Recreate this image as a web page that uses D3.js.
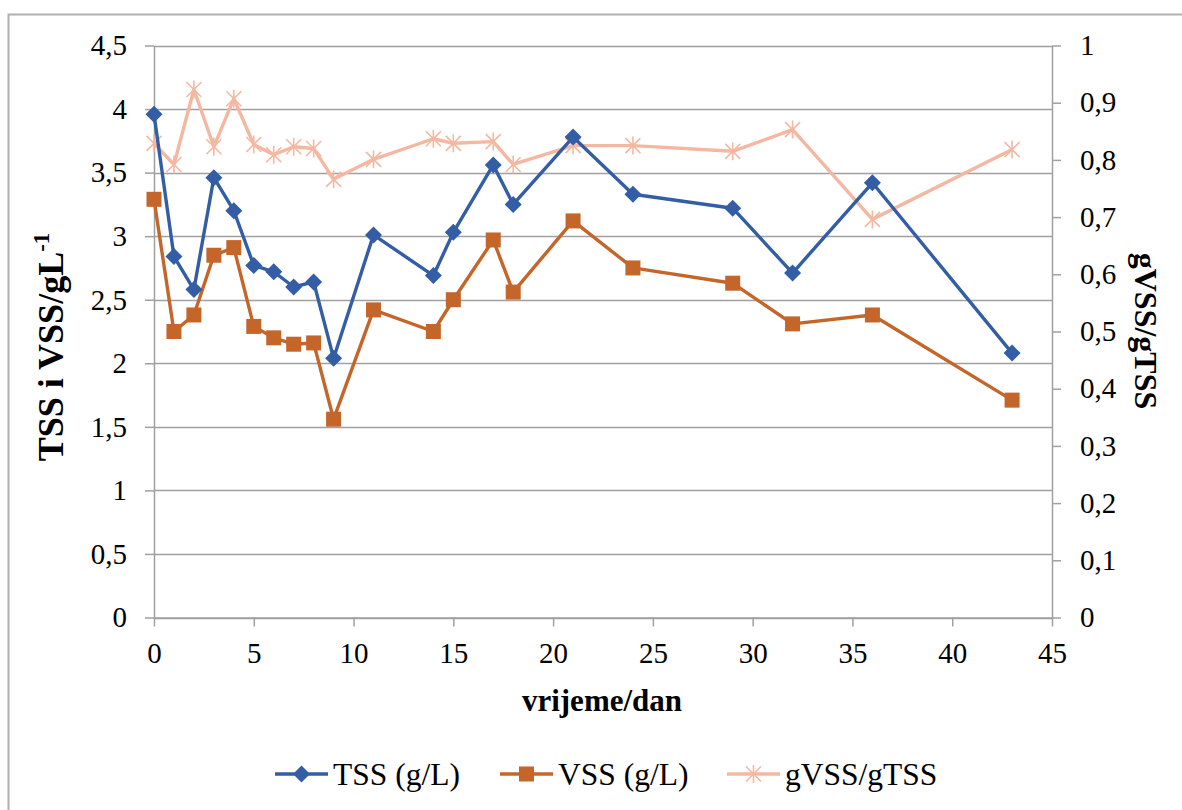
<!DOCTYPE html>
<html><head><meta charset="utf-8">
<script src="https://cdn.jsdelivr.net/npm/d3@7"></script>
<style>
body{margin:0;background:#fff;}
svg{display:block;font-family:"Liberation Serif","Times New Roman",serif;}
</style></head><body>
<svg id="c" width="1182" height="810"></svg>
<script>
const days = [0,1,2,3,4,5,6,7,8,9,11,14,15,17,18,21,24,29,32,36,43];
const tss  = [3.96,2.84,2.58,3.46,3.20,2.77,2.72,2.60,2.64,2.04,3.01,2.69,3.03,3.56,3.25,3.78,3.33,3.22,2.71,3.42,2.08];
const vss  = [3.29,2.25,2.38,2.85,2.91,2.29,2.20,2.15,2.16,1.56,2.42,2.25,2.50,2.97,2.56,3.12,2.75,2.63,2.31,2.38,1.71];
const ratio= [0.829,0.792,0.923,0.823,0.907,0.827,0.809,0.823,0.820,0.766,0.801,0.837,0.829,0.832,0.792,0.825,0.825,0.815,0.853,0.696,0.818];
const xTicks = [0,5,10,15,20,25,30,35,40,45];
const yLeftTicks = [0,0.5,1,1.5,2,2.5,3,3.5,4,4.5];
const yRightTicks = [0,0.1,0.2,0.3,0.4,0.5,0.6,0.7,0.8,0.9,1];
const seriesNames = ["TSS (g/L)","VSS (g/L)","gVSS/gTSS"];
const colors = ["#335ea5","#c4652a","#f4b8a2"];

const svg = d3.select("#c");
const x = d3.scaleLinear().domain([0,45]).range([154,1052]);
const yL = d3.scaleLinear().domain([0,4.5]).range([617.5,45.5]);
const yR = d3.scaleLinear().domain([0,1]).range([617.5,45.5]);
const fmt = d => String(+d.toFixed(1)).replace('.',',');
const grey = "#a0a0a0";

// outer frame
svg.append("rect").attr("x",8.5).attr("y",14.5).attr("width",1200).attr("height",900)
  .attr("fill","none").attr("stroke","#b0b0b0").attr("stroke-width",2);

// gridlines
svg.append("g").selectAll("line").data(yLeftTicks).join("line")
  .attr("x1",x(0)).attr("x2",x(45)).attr("y1",d=>Math.round(yL(d))+0.5).attr("y2",d=>Math.round(yL(d))+0.5)
  .attr("stroke",grey).attr("stroke-width",1.5);

function styleAxis(g){
  g.select(".domain").attr("stroke",grey).attr("stroke-width",1.5);
  g.selectAll(".tick line").attr("stroke",grey).attr("stroke-width",1.5);
  g.selectAll("text").attr("fill","#000").style("font-size","29px").style("font-family","Liberation Serif");
}
const gL = svg.append("g").attr("transform",`translate(${x(0)},0)`)
  .call(d3.axisLeft(yL).tickValues(yLeftTicks).tickFormat(fmt).tickSize(9).tickPadding(18).tickSizeOuter(0));
styleAxis(gL);
const gR = svg.append("g").attr("transform",`translate(${x(45)},0)`)
  .call(d3.axisRight(yR).tickValues(yRightTicks).tickFormat(fmt).tickSize(9).tickPadding(19).tickSizeOuter(0));
styleAxis(gR);
const gX = svg.append("g").attr("transform",`translate(0,${yL(0)})`)
  .call(d3.axisBottom(x).tickValues(xTicks).tickFormat(d3.format("d")).tickSize(9).tickPadding(16).tickSizeOuter(0));
styleAxis(gX);

// axis titles
svg.append("text").attr("x",602).attr("y",711).attr("text-anchor","middle")
  .style("font-size","31px").style("font-weight","bold").text("vrijeme/dan");
const lt = svg.append("text").attr("transform","translate(63,347) rotate(-90)").attr("text-anchor","middle")
  .style("font-size","36px").style("font-weight","bold");
lt.append("tspan").text("TSS i VSS/gL");
lt.append("tspan").attr("dy",-14).style("font-size","23px").text("-1");
svg.append("text").attr("transform","translate(1135,331) rotate(90)").attr("text-anchor","middle")
  .style("font-size","32px").style("font-weight","bold").text("gVSS/gTSS");

// markers
function marker(g, type, color){
  if(type===0){
    g.append("path").attr("d","M0,-8.5L8.5,0L0,8.5L-8.5,0Z").attr("fill",color);
  } else if(type===1){
    g.append("rect").attr("x",-7.5).attr("y",-7.5).attr("width",15).attr("height",15).attr("fill",color);
  } else {
    const r=7.5;
    g.append("path").attr("d",`M${-r},${-r}L${r},${r}M${-r},${r}L${r},${-r}M0,${-r-1.5}L0,${r+1.5}`)
      .attr("stroke",color).attr("stroke-width",1.6).attr("fill","none");
  }
}
const series = [
  {vals:tss, y:yL},
  {vals:vss, y:yL},
  {vals:ratio, y:yR}
];
[2,1,0].forEach(i=>{
  const s = series[i];
  const pts = days.map((d,j)=>[x(d), s.y(s.vals[j])]);
  svg.append("path").attr("d",d3.line()(pts)).attr("fill","none")
    .attr("stroke",colors[i]).attr("stroke-width",3.4).attr("stroke-linejoin","round");
  pts.forEach(p=>{
    marker(svg.append("g").attr("transform",`translate(${p[0]},${p[1]})`), i, colors[i]);
  });
});

// legend
const legX = [275,500,727];
seriesNames.forEach((n,i)=>{
  const g = svg.append("g").attr("transform",`translate(${legX[i]},774)`);
  g.append("line").attr("x1",0).attr("x2",53).attr("stroke",colors[i]).attr("stroke-width",3.4);
  marker(g.append("g").attr("transform","translate(26.5,0)"), i, colors[i]);
  g.append("text").attr("x",58).attr("y",11).style("font-size","31.5px").text(n);
});
</script>
</body></html>
